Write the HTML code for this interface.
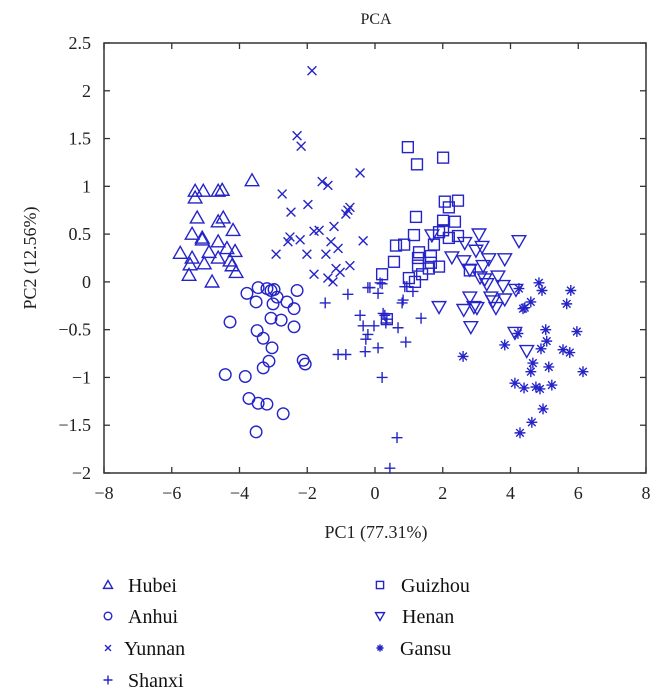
<!DOCTYPE html>
<html><head><meta charset="utf-8"><style>
html,body{margin:0;padding:0;background:#fff;}
svg{display:block;font-family:"Liberation Serif",serif;}
</style></head><body>
<svg id="chart" width="665" height="700" viewBox="0 0 665 700" xmlns="http://www.w3.org/2000/svg"></svg>
<script>
const seriesNames = ["Hubei","Anhui","Yunnan","Shanxi","Guizhou","Henan","Gansu"];
const xTicks = [-8,-6,-4,-2,0,2,4,6,8];
const yTicks = [-2,-1.5,-1,-0.5,0,0.5,1,1.5,2,2.5];
const hubeiX = [-5.31,-5.07,-4.63,-4.51,-3.63,-5.31,-5.25,-4.63,-4.48,-4.19,-5.40,-5.10,-4.63,-5.75,-4.90,-4.37,-4.13,-5.40,-5.10,-4.63,-5.46,-5.04,-4.28,-4.22,-4.10,-5.49,-4.81];
const hubeiY = [0.95,0.95,0.95,0.96,1.06,0.88,0.67,0.63,0.67,0.54,0.50,0.46,0.42,0.30,0.31,0.35,0.32,0.25,0.44,0.25,0.18,0.19,0.22,0.17,0.10,0.07,0.00];
const anhuiX = [-3.78,-3.45,-3.19,-3.07,-2.98,-2.89,-3.51,-3.01,-2.60,-2.30,-2.39,-4.28,-3.07,-2.77,-2.39,-3.48,-3.30,-3.04,-3.13,-3.30,-2.12,-2.06,-4.42,-3.83,-3.72,-3.45,-3.19,-2.71,-3.51];
const anhuiY = [-0.12,-0.06,-0.07,-0.09,-0.08,-0.16,-0.21,-0.23,-0.21,-0.09,-0.28,-0.42,-0.38,-0.40,-0.47,-0.51,-0.59,-0.69,-0.83,-0.90,-0.82,-0.86,-0.97,-0.99,-1.22,-1.27,-1.28,-1.38,-1.57];
const yunnanX = [-1.86,-2.30,-2.18,-0.44,-1.56,-1.39,-2.74,-1.98,-2.48,-0.74,-0.80,-0.86,-1.21,-1.80,-1.65,-2.51,-2.57,-2.21,-1.30,-0.35,-1.09,-2.92,-2.01,-1.45,-1.80,-1.39,-1.24,-1.15,-1.03,-0.74];
const yunnanY = [2.21,1.53,1.42,1.14,1.05,1.01,0.92,0.81,0.73,0.78,0.75,0.71,0.58,0.53,0.54,0.47,0.42,0.44,0.42,0.43,0.35,0.29,0.29,0.29,0.08,0.04,0.00,0.14,0.10,0.17];
const shanxiX = [-1.47,-0.80,-0.21,-0.15,0.15,0.09,-0.44,-0.35,-0.03,0.29,0.35,0.32,0.68,1.36,0.91,-0.21,-0.27,-0.29,0.09,-1.09,-0.86,0.21,0.65,0.44,0.80,0.83,0.94,1.12,0.21,0.88,0.24];
const shanxiY = [-0.22,-0.13,-0.06,-0.06,-0.01,-0.12,-0.35,-0.46,-0.46,-0.35,-0.39,-0.43,-0.48,-0.38,-0.63,-0.55,-0.60,-0.73,-0.69,-0.76,-0.76,-1.00,-1.63,-1.95,-0.22,-0.19,-0.05,-0.10,-0.02,-0.05,-0.33];
const guizhouX = [0.97,1.24,2.01,2.06,2.45,2.18,1.21,2.01,2.36,1.15,1.89,2.01,2.45,2.18,1.74,0.62,0.86,1.30,1.27,1.65,0.56,1.27,1.65,1.89,1.59,1.39,0.21,1.00,1.18,2.80,0.35];
const guizhouY = [1.41,1.23,1.30,0.84,0.85,0.78,0.68,0.64,0.63,0.49,0.52,0.54,0.48,0.46,0.39,0.38,0.39,0.31,0.25,0.27,0.21,0.17,0.20,0.16,0.14,0.08,0.08,0.04,0.00,0.12,-0.39];
const henanX = [1.68,3.07,4.25,2.65,2.98,3.16,2.27,2.62,3.36,3.83,3.19,2.80,3.10,3.24,3.63,3.30,3.78,4.16,1.89,2.62,2.80,2.92,3.01,3.42,3.48,3.57,3.83,2.83,4.13,4.48];
const henanY = [0.49,0.50,0.43,0.41,0.33,0.37,0.26,0.22,0.24,0.24,0.17,0.13,0.05,0.03,0.06,-0.02,-0.04,-0.08,-0.26,-0.29,-0.16,-0.26,-0.27,-0.16,-0.20,-0.27,-0.18,-0.47,-0.53,-0.72];
const gansuX = [4.84,4.93,5.78,4.25,4.60,4.42,4.37,5.66,5.04,5.96,4.22,5.07,3.83,4.90,5.55,5.75,2.60,4.66,5.13,4.60,6.14,4.13,4.40,4.75,4.87,5.22,4.96,4.63,4.28];
const gansuY = [-0.01,-0.09,-0.09,-0.07,-0.21,-0.27,-0.28,-0.23,-0.50,-0.52,-0.54,-0.62,-0.66,-0.70,-0.71,-0.74,-0.78,-0.85,-0.89,-0.94,-0.94,-1.06,-1.11,-1.10,-1.12,-1.08,-1.33,-1.47,-1.58];

const svg = document.getElementById('chart');
const NS = 'http://www.w3.org/2000/svg';
const L=104,R=646,T=43,B=473;
const xMin=-8,xMax=8,yMin=-2,yMax=2.5;
const sx = v => L + (v-xMin)/(xMax-xMin)*(R-L);
const sy = v => B - (v-yMin)/(yMax-yMin)*(B-T);
const C = '#2424c8';
function mk(tag, attrs, parent){const e=document.createElementNS(NS,tag);for(const k in attrs)e.setAttribute(k,attrs[k]);(parent||svg).appendChild(e);return e;}

function marker(kind, x, y, s, parent){
  const g = mk('g',{stroke:C,fill:'none','stroke-width':1.4},parent);
  if(kind==='Hubei'){mk('polygon',{points:`${x},${y-s} ${x-s},${y+s*0.75} ${x+s},${y+s*0.75}`},g);}
  else if(kind==='Henan'){mk('polygon',{points:`${x},${y+s} ${x-s},${y-s*0.75} ${x+s},${y-s*0.75}`},g);}
  else if(kind==='Anhui'){mk('circle',{cx:x,cy:y,r:s*0.85},g);}
  else if(kind==='Guizhou'){mk('rect',{x:x-s*0.8,y:y-s*0.8,width:s*1.6,height:s*1.6},g);}
  else if(kind==='Yunnan'){const d=s*0.65;mk('path',{d:`M${x-d},${y-d}L${x+d},${y+d}M${x-d},${y+d}L${x+d},${y-d}`},g);}
  else if(kind==='Shanxi'){mk('path',{d:`M${x-s},${y}L${x+s},${y}M${x},${y-s}L${x},${y+s}`},g);}
  else if(kind==='Gansu'){const d=s*0.8,e=d*0.7;mk('path',{d:`M${x-d},${y}L${x+d},${y}M${x},${y-d}L${x},${y+d}M${x-e},${y-e}L${x+e},${y+e}M${x-e},${y+e}L${x+e},${y-e}`},g);}
  return g;
}

let t=mk('text',{x:376,y:24,'text-anchor':'middle','font-size':16,fill:'#222'});t.textContent='PCA';


const frame=mk('rect',{x:L,y:T,width:R-L,height:B-T,fill:'none',stroke:'#333','stroke-width':1.5});


xTicks.forEach(v=>{
  const X=sx(v);
  mk('line',{x1:X,y1:B,x2:X,y2:B-6,stroke:'#333','stroke-width':1.3});
  mk('line',{x1:X,y1:T,x2:X,y2:T+6,stroke:'#333','stroke-width':1.3});
  const lb=mk('text',{x:X,y:B+26,'text-anchor':'middle','font-size':18,fill:'#222'});
  lb.textContent=(v<0?'\u2212'+(-v):String(v));
  
  
});
yTicks.forEach(v=>{
  const Y=sy(v);
  mk('line',{x1:L,y1:Y,x2:L+6,y2:Y,stroke:'#333','stroke-width':1.3});
  mk('line',{x1:R,y1:Y,x2:R-6,y2:Y,stroke:'#333','stroke-width':1.3});
  const lb=mk('text',{x:L-13,y:Y+6,'text-anchor':'end','font-size':18,fill:'#222'});
  lb.textContent=(v<0?'\u2212'+(-v):String(v));
  
  
});
let xl=mk('text',{x:376,y:538,'text-anchor':'middle','font-size':18,fill:'#222'});xl.textContent='PC1 (77.31%)';


let yl=mk('text',{x:0,y:0,'text-anchor':'middle','font-size':18,fill:'#222',transform:`translate(36,${(T+B)/2}) rotate(-90)`});yl.textContent='PC2 (12.56%)';



const series = {Hubei:[hubeiX,hubeiY],Anhui:[anhuiX,anhuiY],Yunnan:[yunnanX,yunnanY],Shanxi:[shanxiX,shanxiY],Guizhou:[guizhouX,guizhouY],Henan:[henanX,henanY],Gansu:[gansuX,gansuY]};
seriesNames.forEach(n=>{
  const [xs,ys]=series[n];
  const grp=mk('g',{});
  
  
  xs.forEach((xv,i)=>{
    const m=marker(n,sx(xv),sy(ys[i]),n==='Shanxi'?5.5:6.8,grp);
    
    
  });
});

const legPos={Hubei:[108,128,585],Anhui:[108,128,616],Yunnan:[108,124,648],Shanxi:[108,128,680],Guizhou:[380,401,585],Henan:[380,402,616],Gansu:[380,400,648]};
seriesNames.forEach(n=>{
  const [mx,tx,y]=legPos[n];
  const lg=mk('g',{});
  
  
  marker(n,mx,y,4.5,lg);
  const tt=mk('text',{x:tx,y:y+7,'font-size':20,fill:'#111'},lg);tt.textContent=n;
});
</script>
</body></html>
